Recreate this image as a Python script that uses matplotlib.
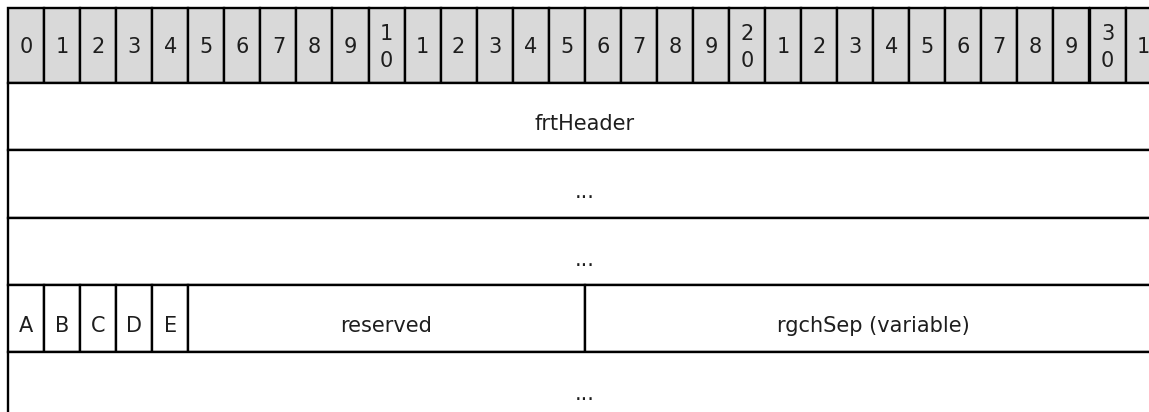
import matplotlib
matplotlib.use("Agg")
import matplotlib.pyplot as plt
from matplotlib.patches import Rectangle

# bit ruler labels (header row)
bit_labels = ["0", "1", "2", "3", "4", "5", "6", "7", "8", "9",
              "1\n0", "1", "2", "3", "4", "5", "6", "7", "8", "9",
              "2\n0", "1", "2", "3", "4", "5", "6", "7", "8", "9",
              "3\n0", "1"]

# structure fields: name, row, first bit, bit count
field_names = ["frtHeader", "...", "...", "A", "B", "C", "D", "E",
               "reserved", "rgchSep (variable)", "..."]
field_rows = [0, 1, 2, 3, 3, 3, 3, 3, 3, 3, 4]
field_start = [0, 0, 0, 0, 1, 2, 3, 4, 5, 16, 0]
field_bits = [32, 32, 32, 1, 1, 1, 1, 1, 11, 16, 32]

# layout (pixels)
W, H = 1149, 412
X0 = 8.0
BIT_W = 36.05
HEADER_TOP, HEADER_BOT = 8.0, 82.5
row_edges = [82.5, 150.0, 218.0, 285.0, 352.0, 419.0]

LW = 1.7
FS = 15
TXT = "#1e1e1e"
GRAY = "#d9d9d9"

fig = plt.figure(figsize=(W / 100, H / 100), dpi=100)
ax = fig.add_axes([0, 0, 1, 1])
ax.set_xlim(-X0 / BIT_W, (W - X0) / BIT_W)
ax.set_ylim(H, 0)
ax.axis("off")

# header row
for i, lab in enumerate(bit_labels):
    ax.add_patch(Rectangle((i, HEADER_TOP), 1, HEADER_BOT - HEADER_TOP,
                           facecolor=GRAY, edgecolor="black", lw=LW))
    mid = (HEADER_TOP + HEADER_BOT) / 2
    parts = lab.split("\n")
    if len(parts) == 1:
        ax.text(i + 0.5, mid + 7.5, lab, ha="center", va="baseline",
                fontsize=FS, color=TXT)
    else:
        ax.text(i + 0.5, mid - 13 + 7.5, parts[0], ha="center",
                va="baseline", fontsize=FS, color=TXT)
        ax.text(i + 0.5, mid + 14 + 7.5, parts[1], ha="center",
                va="baseline", fontsize=FS, color=TXT)

# field rows
for name, r, s, n in zip(field_names, field_rows, field_start, field_bits):
    top, bot = row_edges[r], row_edges[r + 1]
    ax.add_patch(Rectangle((s, top), n, bot - top, facecolor="white",
                           edgecolor="black", lw=LW))
    ax.text(s + n / 2, (top + bot) / 2 + 14, name, ha="center",
            va="baseline", fontsize=FS, color=TXT)

fig.savefig("out.png", dpi=100)
